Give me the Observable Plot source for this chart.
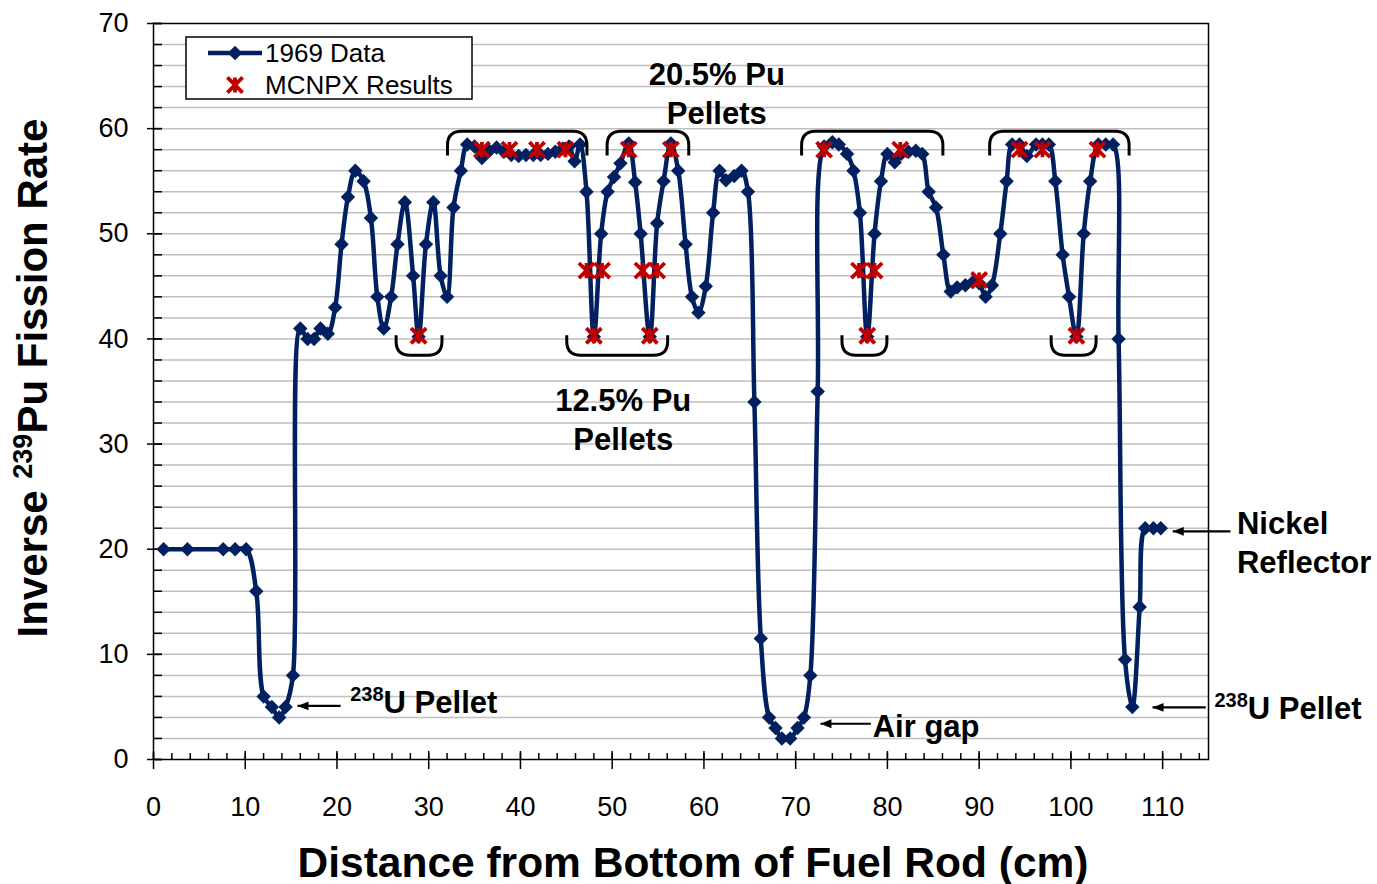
<!DOCTYPE html>
<html>
<head>
<meta charset="utf-8">
<script src="https://cdn.jsdelivr.net/npm/d3@7"></script>
<script src="https://cdn.jsdelivr.net/npm/@observablehq/plot@0.6"></script>
<style>
  body { margin: 0; background: #fff; }
  #chart svg { display: block; }
</style>
</head>
<body>
<div id="chart"></div>
<script>
// 1969 measurements: distance along the rod (cm) and inverse 239Pu fission rate
const distance = [
  1.1, 3.7, 7.6, 8.9, 10.1, 11.2, 12.0, 12.9, 13.7, 14.4,
  15.2, 16.0, 16.8, 17.5, 18.2, 19.0, 19.8, 20.5, 21.2, 22.0,
  22.9, 23.7, 24.4, 25.1, 25.9, 26.6, 27.4, 28.3, 28.9, 29.7,
  30.5, 31.3, 32.0, 32.7, 33.5, 34.2, 35.0, 35.8, 36.6, 37.4,
  38.2, 39.0, 39.8, 40.6, 41.4, 42.2, 43.0, 43.8, 44.6, 45.3,
  45.9, 46.5, 47.2, 48.0, 48.8, 49.5, 50.2, 50.9, 51.8, 52.5,
  53.1, 54.1, 54.9, 55.6, 56.4, 57.2, 58.0, 58.7, 59.4, 60.2,
  61.0, 61.7, 62.4, 63.3, 64.1, 64.8, 65.5, 66.2, 67.1, 67.8,
  68.5, 69.4, 70.2, 70.9, 71.6, 72.4, 73.1, 74.0, 74.7, 75.6,
  76.3, 77.0, 77.8, 78.6, 79.3, 80.0, 80.8, 81.5, 82.3, 83.1,
  83.8, 84.5, 85.3, 86.1, 86.9, 87.6, 88.5, 89.3, 90.0, 90.7,
  91.4, 92.3, 93.0, 93.6, 94.4, 95.2, 96.2, 96.9, 97.6, 98.3,
  99.1, 99.8, 100.6, 101.4, 102.1, 103.0, 103.8, 104.6, 105.2, 105.9,
  106.7, 107.5, 108.1, 109.0, 109.8
];
const rate = [
  20, 20, 20, 20, 20, 16, 6, 5, 4, 5,
  8, 41, 40, 40, 41, 40.5, 43, 49, 53.5, 56,
  55, 51.5, 44, 41, 44, 49, 53, 46, 40.2, 49,
  53, 46, 44, 52.5, 56, 58.5, 58.3, 57.2, 57.9, 58.2,
  57.8, 57.5, 57.4, 57.5, 57.5, 57.5, 57.6, 57.8, 58.1, 58.3,
  56.9, 58.5, 54, 40.2, 50, 54, 55.4, 56.7, 58.6, 54.9,
  50, 40.2, 51, 55, 58.6, 56, 49, 44, 42.5, 45,
  52, 56, 55.1, 55.5, 56, 54, 34, 11.5, 4, 3,
  2, 2, 3, 4, 8, 35, 58.3, 58.7, 58.5, 57.6,
  56, 52, 40.2, 50, 55, 57.6, 56.8, 57.6, 57.8, 57.9,
  57.6, 54, 52.5, 48, 44.5, 44.9, 45.1, 45.4, 45.3, 44,
  45.1, 50, 55, 58.5, 58.5, 57.4, 58.5, 58.5, 58.5, 55,
  48, 44, 40.2, 50, 55, 58.5, 58.5, 58.5, 40, 9.5,
  5, 14.5, 22, 22, 22
];

// MCNPX calculated results
const mcnpxDistance = [28.9, 35.8, 38.8, 41.8, 44.9, 47.2, 48.0, 48.9, 51.8, 53.3, 54.1, 54.9,
  56.4, 73.1, 76.9, 77.8, 78.6, 81.4, 90.0, 94.4, 96.9, 100.6, 102.9];
const mcnpxRate = [40.3, 58, 58, 58, 58, 46.5, 40.3, 46.5, 58, 46.5, 40.3, 46.5,
  58, 58, 46.5, 40.3, 46.5, 58, 45.6, 58, 58, 40.3, 58];

// Axis ticks
const xTickLabels = [0, 10, 20, 30, 40, 50, 60, 70, 80, 90, 100, 110];
const xMinorTicks = d3.range(0, 115, 2);
const yTickLabels = [0, 10, 20, 30, 40, 50, 60, 70];
const yMinorTicks = d3.range(0, 71, 2);
const yGridLines = d3.range(2, 70, 2);

// Pellet groupings (braces), in data units: [start, end]
const highPuBraces = [[32.1, 47.3], [49.5, 58.4], [70.7, 86.1], [91.2, 106.4]];
const lowPuBraces = [[26.5, 31.5], [45.1, 56.1], [75.1, 80.0], [97.9, 102.8]];

// Callout arrows: tail (x1) -> head (x2)
const arrowX1 = [20.4, 78.2, 117.4, 114.7];
const arrowX2 = [15.7, 72.7, 111.1, 108.9];
const arrowY = [5.1, 3.4, 21.7, 4.95];

// Plain annotation labels
const noteText = ["20.5% Pu\nPellets", "12.5% Pu\nPellets", "Nickel\nReflector", "Air gap"];
const noteX = [61.4, 51.2, 118.1, 78.4];
const noteY = [63.5, 32.5, 20.8, 3.3];
const noteAnchor = ["middle", "middle", "start", "start"];

// 238U pellet labels (with superscript)
const uNoteX = [21.5, 115.7];
const uNoteY = [5.4, 4.85];

const NAVY = "#002060";
const RED = "#c00000";
const FONT = "'Liberation Sans', Arial, Helvetica, sans-serif";

const measured = distance.map((d, i) => ({x: d, y: rate[i]}));
const mcnpx = mcnpxDistance.map((d, i) => ({x: d, y: mcnpxRate[i]}));
const arrows = arrowX1.map((d, i) => ({x1: d, x2: arrowX2[i], y: arrowY[i]}));
const notes = noteText.map((t, i) => ({text: t, x: noteX[i], y: noteY[i], anchor: noteAnchor[i]}));

// Star marker: an X crossed by a vertical bar
const starSymbol = {
  draw(context, size) {
    const r = Math.sqrt(size / Math.PI);
    const a = r * 0.8;
    context.moveTo(-a, -a); context.lineTo(a, a);
    context.moveTo(-a, a); context.lineTo(a, -a);
    context.moveTo(0, -r * 0.8); context.lineTo(0, r * 0.8);
  }
};

// Solid arrowhead pointing left, tip at the origin
const leftHead = {
  draw(context, size) {
    const r = Math.sqrt(size / Math.PI);
    context.moveTo(0, 0);
    context.lineTo(r * 2, -r * 0.8);
    context.lineTo(r * 2, r * 0.8);
    context.closePath();
  }
};

const plot = Plot.plot({
  width: 1377,
  height: 884,
  marginLeft: 153,
  marginRight: 169,
  marginTop: 23,
  marginBottom: 125,
  style: {fontFamily: FONT, color: "#000", background: "#fff", overflow: "visible"},
  x: {domain: [0, 115]},
  y: {domain: [0, 70]},
  marks: [
    Plot.gridY(yGridLines, {stroke: "#bfbfbf", strokeOpacity: 1, strokeWidth: 1.5}),
    // inward minor ticks
    Plot.axisY(yMinorTicks, {tickSize: 9, dx: 9, tickFormat: () => "", label: null, strokeWidth: 1.5}),
    Plot.axisX(xMinorTicks, {tickSize: 6, dy: -6, tickFormat: () => "", label: null, strokeWidth: 1.5}),
    // major ticks crossing the axis lines
    Plot.axisY(yTickLabels, {tickSize: 15, dx: 9, tickFormat: () => "", label: null, strokeWidth: 1.5}),
    Plot.axisX(xTickLabels, {tickSize: 18, dy: -8, tickFormat: () => "", label: null, strokeWidth: 1.5}),
    // tick labels
    Plot.axisY(yTickLabels, {tickSize: 0, tickPadding: 25, fontSize: 27, label: null}),
    Plot.axisX(xTickLabels, {tickSize: 0, tickPadding: 37, fontSize: 27, label: null}),
    Plot.frame({stroke: "#000", strokeWidth: 1.5}),
    Plot.line(measured, {x: "x", y: "y", stroke: NAVY, strokeWidth: 4.5, curve: "catmull-rom"}),
    Plot.dot(measured, {x: "x", y: "y", symbol: "diamond2", r: 6.5, fill: NAVY, stroke: "none"}),
    Plot.dot(mcnpx, {x: "x", y: "y", symbol: starSymbol, r: 9.5, fill: "none", stroke: RED, strokeWidth: 3.8}),
    // callout arrows
    Plot.link(arrows, {x1: "x1", x2: "x2", y1: "y", y2: "y", stroke: "#000", strokeWidth: 2.2}),
    Plot.dot(arrows, {x: "x2", y: "y", symbol: leftHead, r: 5.5, fill: "#000", stroke: "none"}),
    Plot.text(notes.filter(d => d.anchor === "middle"), {x: "x", y: "y", text: "text", fontSize: 31, fontWeight: "bold", lineHeight: 1.25, textAnchor: "middle", fill: "#000"}),
    Plot.text(notes.filter(d => d.anchor === "start"), {x: "x", y: "y", text: "text", fontSize: 31, fontWeight: "bold", lineHeight: 1.25, textAnchor: "start", fill: "#000"})
  ]
});

const svg = d3.select(plot);
const sx = plot.scale("x");
const sy = plot.scale("y");
const X = v => sx.apply(v);
const Y = v => sy.apply(v);

// Braces over the 20.5% Pu pellets (open downward)
const braceRadius = 14;
for (const [a, b] of highPuBraces) {
  const x1 = X(a), x2 = X(b), yt = Y(59.7), ye = Y(57.4);
  svg.append("path")
    .attr("d", `M${x1},${ye} L${x1},${yt + braceRadius} Q${x1},${yt} ${x1 + braceRadius},${yt} L${x2 - braceRadius},${yt} Q${x2},${yt} ${x2},${yt + braceRadius} L${x2},${ye}`)
    .attr("fill", "none").attr("stroke", "#000").attr("stroke-width", 3);
}
// Braces under the 12.5% Pu pellets (open upward)
for (const [a, b] of lowPuBraces) {
  const x1 = X(a), x2 = X(b), yb = Y(38.4), ye = Y(40.3);
  svg.append("path")
    .attr("d", `M${x1},${ye} L${x1},${yb - braceRadius} Q${x1},${yb} ${x1 + braceRadius},${yb} L${x2 - braceRadius},${yb} Q${x2},${yb} ${x2},${yb - braceRadius} L${x2},${ye}`)
    .attr("fill", "none").attr("stroke", "#000").attr("stroke-width", 3);
}

// 238U pellet labels
uNoteX.forEach((v, i) => {
  const t = svg.append("text")
    .attr("x", X(v)).attr("y", Y(uNoteY[i]) + 11)
    .attr("text-anchor", "start")
    .attr("font-family", FONT).attr("font-weight", "bold").attr("font-size", 31).attr("fill", "#000");
  t.append("tspan").attr("font-size", 20).attr("dy", -12).text("238");
  t.append("tspan").attr("dy", 12).text("U Pellet");
});

// Axis titles
svg.append("text")
  .attr("x", 693).attr("y", 877)
  .attr("text-anchor", "middle")
  .attr("font-family", FONT).attr("font-weight", "bold").attr("font-size", 42.5).attr("fill", "#000")
  .text("Distance from Bottom of Fuel Rod (cm)");

const yTitle = svg.append("text")
  .attr("transform", "translate(47,378) rotate(-90)")
  .attr("text-anchor", "middle")
  .attr("font-family", FONT).attr("font-weight", "bold").attr("font-size", 42).attr("fill", "#000");
yTitle.append("tspan").text("Inverse ");
yTitle.append("tspan").attr("font-size", 27).attr("dy", -15).text("239");
yTitle.append("tspan").attr("dy", 15).text("Pu Fission Rate");

// Legend
const legend = svg.append("g").attr("text-anchor", "start");
legend.append("rect")
  .attr("x", 186).attr("y", 37).attr("width", 286).attr("height", 62)
  .attr("fill", "#fff").attr("stroke", "#000").attr("stroke-width", 1.5);
legend.append("line")
  .attr("x1", 208).attr("x2", 262).attr("y1", 53).attr("y2", 53)
  .attr("stroke", NAVY).attr("stroke-width", 4.5);
legend.append("path")
  .attr("d", d3.symbol(d3.symbolDiamond2, Math.PI * 6.5 * 6.5)())
  .attr("transform", "translate(235,53)").attr("fill", NAVY);
legend.append("path")
  .attr("d", d3.symbol(starSymbol, Math.PI * 9.5 * 9.5)())
  .attr("transform", "translate(235,85)")
  .attr("fill", "none").attr("stroke", RED).attr("stroke-width", 3.8);
legend.append("text")
  .attr("x", 265).attr("y", 53).attr("dy", "0.35em")
  .attr("font-family", FONT).attr("font-size", 26).attr("fill", "#000").text("1969 Data");
legend.append("text")
  .attr("x", 265).attr("y", 85).attr("dy", "0.35em")
  .attr("font-family", FONT).attr("font-size", 26).attr("fill", "#000").text("MCNPX Results");

document.getElementById("chart").appendChild(plot);
</script>
</body>
</html>
